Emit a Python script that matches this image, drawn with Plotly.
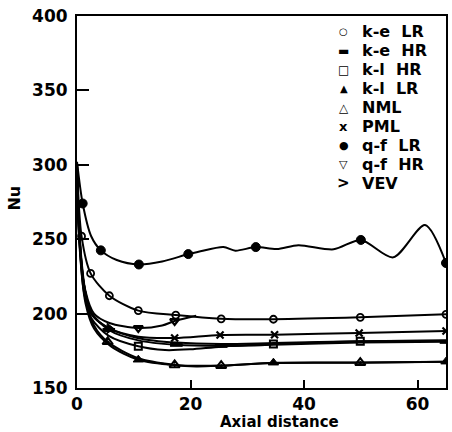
import plotly.graph_objects as go

# Nusselt number along the axial distance for the different turbulence models
ke_lr_x = [0, 0.8, 2.4, 5.7, 10.8, 17.4, 25.4, 34.6, 49.9, 65]
ke_lr_y = [300, 252, 227, 212, 202, 199, 196.5, 196.2, 197.5, 199.5]
ke_lr_mk = [0.8, 2.4, 5.7, 10.8, 17.4, 25.4, 34.6, 49.9, 65]

ke_hr_x = [0, 0.4, 1.2, 2.5, 5.6, 10.8, 17.5, 25.4, 34.6, 49.9, 65]
ke_hr_y = [300, 255, 220, 201, 189, 182, 179, 178.3, 179, 180.5, 181]
ke_hr_mk = [5.6, 17.5, 25.4, 65]

kl_hr_x = [0, 0.4, 1.2, 2.5, 5.6, 10.8, 15.5, 20, 25.4, 34.6, 49.9, 65]
kl_hr_y = [300, 252, 215, 197, 185, 178, 175.5, 176, 177.8, 179.5, 181.5, 182]
kl_hr_mk = [10.8, 34.6, 49.9]

kl_lr_x = [0, 0.4, 1.5, 3, 6, 10.8, 17.2, 25.4, 34.6, 49.9, 65]
kl_lr_y = [300, 248, 207, 190, 178, 169, 165.5, 165, 167, 167.2, 167.7]
kl_lr_mk = [10.8, 34.6, 65]

nml_x = [0, 0.4, 1.5, 3, 5.4, 10.8, 17.2, 21, 25.4, 34.6, 49.9, 65]
nml_y = [300, 250, 210, 192, 181, 170, 165.5, 164.5, 165, 166.8, 167, 167.7]
nml_mk = [5.4, 17.2, 25.4, 49.9]

pml_x = [0, 0.4, 1.2, 2.5, 5.7, 10.8, 17.2, 25.2, 34.8, 49.7, 65]
pml_y = [300, 255, 220, 200, 190, 184.5, 183.6, 185.6, 185.8, 187, 188.3]
pml_mk = [17.2, 25.2, 34.8, 49.7, 65]

qf_lr_x = [0, 1.0, 2.5, 4.2, 7, 10.9, 15, 19.6, 21.4, 25.8, 27.9, 31.5,
           35.2, 39, 45.2, 50, 55.7, 61.3, 65]
qf_lr_y = [302, 274, 252, 242.5, 236, 233, 235, 240, 241.5, 244.7, 242.3, 244.7,
           243.4, 246, 243.2, 249.5, 237.8, 259.5, 234]
qf_lr_mk = [1.0, 4.2, 10.9, 19.6, 31.5, 50, 65]

qf_hr_x = [0, 0.5, 1.5, 3, 5.7, 10.8, 15, 17.2, 21]
qf_hr_y = [300, 250, 215, 200, 193.7, 190.3, 192, 195, 198.5]
qf_hr_mk = [10.8, 17.2]

vev_x = [0, 0.4, 1.3, 2.7, 5.7, 10.8, 17.5, 25.4, 34.6, 49.9, 65]
vev_y = [300, 253, 218, 199, 190, 183.5, 180.5, 179.5, 180.2, 181.5, 182]
vev_mk = [5.7]

x_ticks = [0, 20, 40, 60]
y_ticks = [150, 200, 250, 300, 350, 400]

FONT = "DejaVu Sans"

# (label, x, y, marker positions, marker style, key glyph, key glyph size)
series = [
    ("k-e  LR", ke_lr_x, ke_lr_y, ke_lr_mk,
     dict(symbol="circle-open", size=7, line=dict(width=1.8, color="black")), "○", 10),
    ("k-e  HR", ke_hr_x, ke_hr_y, ke_hr_mk,
     dict(symbol="line-ew", size=9, line=dict(width=4, color="black")), "▬", 12),
    ("k-l  HR", kl_hr_x, kl_hr_y, kl_hr_mk,
     dict(symbol="square-open", size=7, line=dict(width=2, color="black")), "□", 12),
    ("k-l  LR", kl_lr_x, kl_lr_y, kl_lr_mk,
     dict(symbol="triangle-up", size=9, line=dict(width=1, color="black")), "▲", 10),
    ("NML", nml_x, nml_y, nml_mk,
     dict(symbol="triangle-up-open-dot", size=9, line=dict(width=2, color="black")), "△", 12),
    ("PML", pml_x, pml_y, pml_mk,
     dict(symbol="x-thin-open", size=7, line=dict(width=2.2, color="black")), "x", 13),
    ("q-f  LR", qf_lr_x, qf_lr_y, qf_lr_mk,
     dict(symbol="circle", size=9, line=dict(width=1, color="black")), "●", 11),
    ("q-f  HR", qf_hr_x, qf_hr_y, qf_hr_mk,
     dict(symbol="triangle-down-open", size=8, line=dict(width=2.2, color="black")), "▽", 11),
    ("VEV", vev_x, vev_y, vev_mk,
     dict(symbol="triangle-right", size=9, line=dict(width=1, color="black")), "&gt;", 15),
]

fig = go.Figure()

for name, xs, ys, mk, mstyle, _, _ in series:
    lookup = dict(zip(xs, ys))
    # smooth curve through the data
    fig.add_trace(go.Scatter(
        x=xs, y=ys, mode="lines", showlegend=False, name=name,
        line=dict(color="black", width=2, shape="spline", smoothing=0.8),
        hoverinfo="skip",
    ))
    # symbols placed on the curve
    fig.add_trace(go.Scatter(
        x=mk, y=[lookup[v] for v in mk], mode="markers", showlegend=False, name=name,
        marker=dict(color="black", **mstyle),
    ))

# key in the upper right corner: glyph column and label column
key_annotations = []
key_top, key_step = 0.958, 0.051
for i, (name, *_rest, glyph, gsize) in enumerate(series):
    yk = key_top - i * key_step
    key_annotations.append(dict(
        text=glyph, xref="paper", yref="paper", x=0.723, y=yk,
        xanchor="center", yanchor="middle", showarrow=False,
        font=dict(family=FONT, size=gsize, color="black", weight="bold")))
    key_annotations.append(dict(
        text=name, xref="paper", yref="paper", x=0.768, y=yk,
        xanchor="left", yanchor="middle", showarrow=False,
        font=dict(family=FONT, size=16, color="black", weight="bold")))

axis_common = dict(
    showline=True, linecolor="black", linewidth=2, mirror=True,
    ticks="inside", tickcolor="black", tickwidth=2,
    showgrid=False, zeroline=False,
    tickfont=dict(family=FONT, size=17, color="black", weight="bold"),
)

fig.update_layout(
    width=452, height=432,
    margin=dict(l=77, r=4, t=16, b=44),
    paper_bgcolor="white", plot_bgcolor="white",
    showlegend=False,
    xaxis=dict(range=[0, 65], tickvals=x_ticks, ticklen=8, **axis_common),
    yaxis=dict(range=[150, 400], tickvals=y_ticks, ticklen=12,
               ticklabelstandoff=4, **axis_common),
    annotations=key_annotations + [
        dict(text="Axial distance", xref="paper", yref="paper",
             x=0.55, y=-0.118, xanchor="center", yanchor="bottom", showarrow=False,
             borderpad=0,
             font=dict(family=FONT, size=15, color="black", weight="bold")),
        dict(text="Nu", xref="paper", yref="paper", textangle=-90,
             x=-0.17, y=0.51, xanchor="center", yanchor="middle", showarrow=False,
             font=dict(family=FONT, size=16, color="black", weight="bold")),
    ],
)

fig.write_html("out.html")
